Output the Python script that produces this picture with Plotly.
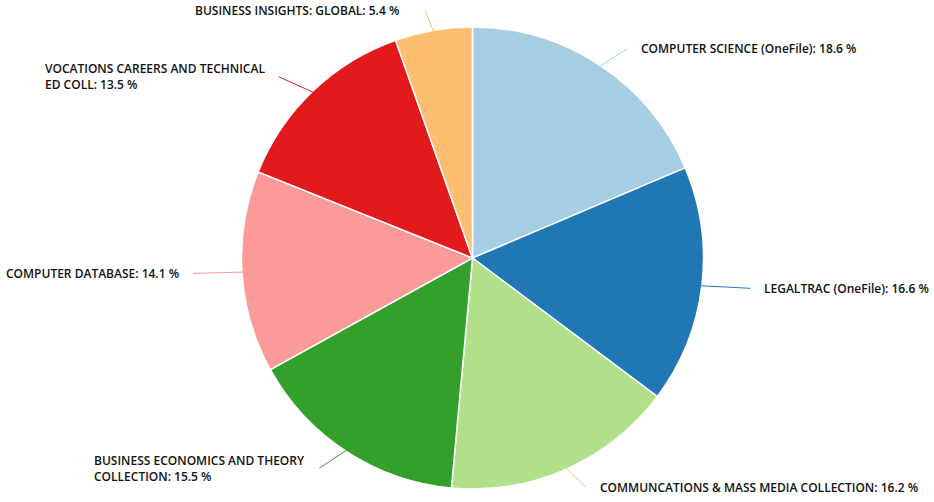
import math
import plotly.graph_objects as go

labels = [
    "COMPUTER SCIENCE (OneFile)",
    "LEGALTRAC (OneFile)",
    "COMMUNCATIONS & MASS MEDIA COLLECTION",
    "BUSINESS ECONOMICS AND THEORY<br>COLLECTION",
    "COMPUTER DATABASE",
    "VOCATIONS CAREERS AND TECHNICAL<br>ED COLL",
    "BUSINESS INSIGHTS: GLOBAL",
]
values = [18.6, 16.6, 16.2, 15.5, 14.1, 13.5, 5.4]
colors = ["#a6cee3", "#1f78b4", "#b2df8a", "#33a02c", "#fb9a99", "#e31a1c", "#fdbf6f"]

W, H = 934, 502
cx, cy = 472.5, 258.0   # pie centre in pixels
R = 231.0               # pie radius
RX, RY = 280.0, 251.0   # label ellipse
GAP = 12

fig = go.Figure(go.Pie(
    labels=[l.replace("<br>", " ") for l in labels],
    values=values,
    sort=False,
    direction="clockwise",
    rotation=0,
    textinfo="none",
    hoverinfo="label+percent",
    marker=dict(colors=colors, line=dict(color="white", width=1.5)),
    domain=dict(x=[(cx - R) / W, (cx + R) / W], y=[(H - cy - R) / H, (H - cy + R) / H]),
    showlegend=False,
))

def px(x):
    return x / W

def py(y):
    return 1 - y / H

total = sum(values)
cum = 0.0
shapes, annots = [], []
for lab, v, c in zip(labels, values, colors):
    mid = (cum + v / 2) / total * 2 * math.pi
    cum += v
    s, co = math.sin(mid), math.cos(mid)
    tx, ty = cx + (R - 2) * s, cy - (R - 2) * co
    lx, ly = cx + RX * s, cy - RY * co
    shapes.append(dict(type="line", xref="paper", yref="paper",
                       x0=px(tx), y0=py(ty), x1=px(lx), y1=py(ly),
                       line=dict(color=c, width=1)))
    right = s >= 0
    gap = GAP if abs(s) > 0.3 else 2 * GAP
    annots.append(dict(
        xref="paper", yref="paper",
        x=px(lx + (gap if right else -gap)), y=py(ly),
        xanchor="left" if right else "right", yanchor="middle",
        align="left", showarrow=False,
        text=f"{lab}: {v} %",
        font=dict(family="Open Sans", size=12, color="#111111", weight=600),
    ))

fig.update_layout(
    width=W, height=H,
    margin=dict(l=0, r=0, t=0, b=0),
    paper_bgcolor="white", plot_bgcolor="white",
    shapes=shapes, annotations=annots,
)
fig.write_html("out.html")
